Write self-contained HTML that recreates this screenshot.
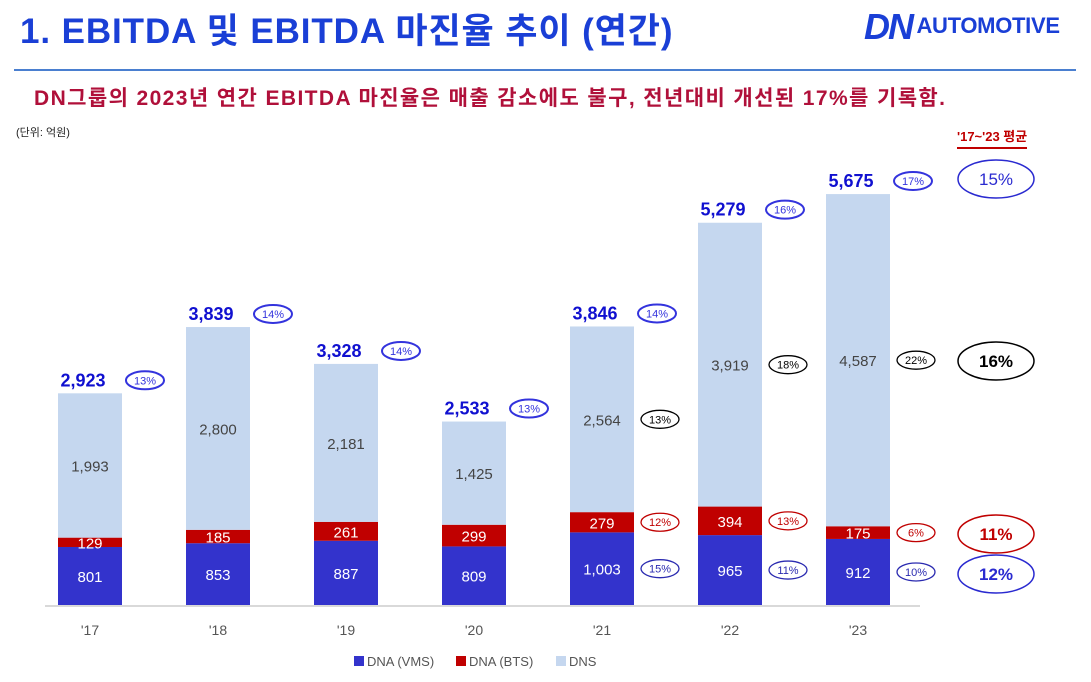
<!DOCTYPE html>
<html><head><meta charset="utf-8">
<style>
body{margin:0;width:1091px;height:682px;background:#fff;overflow:hidden;font-family:"Liberation Sans","Noto Sans CJK KR",sans-serif;}
.abs{position:absolute;}
</style></head>
<body>
<div class="abs" style="left:20px;top:3px;font-size:35px;font-weight:bold;color:#1a3fd6;letter-spacing:0.9px;">1. EBITDA 및 EBITDA 마진율 추이 (연간)</div>
<div class="abs" style="left:864px;top:6px;font-weight:bold;color:#1a3fd6;white-space:nowrap;">
<span style="font-size:36px;font-style:italic;letter-spacing:-2px;">DN</span> <span style="font-size:22px;vertical-align:6px;letter-spacing:-0.3px;">AUTOMOTIVE</span></div>
<div class="abs" style="left:14px;top:69px;width:1062px;height:2px;background:#4a7fd0;"></div>
<div class="abs" style="left:34px;top:82px;font-size:21px;font-weight:bold;color:#b0103a;letter-spacing:1.4px;white-space:nowrap;">DN그룹의 2023년 연간 EBITDA 마진율은 매출 감소에도 불구, 전년대비 개선된 17%를 기록함.</div>
<div class="abs" style="left:16px;top:124px;font-size:11px;color:#222;">(단위: 억원)</div>
<div class="abs" style="left:957px;top:126px;font-size:13px;font-weight:bold;color:#c00000;border-bottom:2px solid #c00000;padding-bottom:2px;">'17~'23 평균</div>
<svg class="abs" style="left:0;top:0" width="1091" height="682" id="chart"></svg>
<script>
const years=["'17","'18","'19","'20","'21","'22","'23"];
const vms=[801,853,887,809,1003,965,912];
const bts=[129,185,261,299,279,394,175];
const dns=[1993,2800,2181,1425,2564,3919,4587];
const totals=[2923,3839,3328,2533,3846,5279,5675];
const totalMargin=["13%","14%","14%","13%","14%","16%","17%"];
const dnsMargin=[null,null,null,null,"13%","18%","22%"];
const btsMargin=[null,null,null,null,"12%","13%","6%"];
const vmsMargin=[null,null,null,null,"15%","11%","10%"];
const avgLabels=["15%","16%","11%","12%"];
const avgColors=["#2a2ad0","#000","#c00000","#2a2ad0"];

const svg=document.getElementById('chart');
const NS='http://www.w3.org/2000/svg';
const base=605, k=411/5675;
const xc=i=>90+128*i;
const y=v=>base-v*k;
const bw=64;
function el(t,a,txt){const e=document.createElementNS(NS,t);for(const key in a)e.setAttribute(key,a[key]);if(txt!=null)e.textContent=txt;svg.appendChild(e);return e;}
const fmt=v=>v.toLocaleString('en-US');
const F='"Liberation Sans","Noto Sans CJK KR",sans-serif';

const axis=el('line',{x1:45,x2:920,y1:base+1,y2:base+1,stroke:'#d9d9d9','stroke-width':2});



function ell(cx,cy,rx,ry,col,txt,fs,bold,name){
  const e=el('ellipse',{cx:cx,cy:cy,rx:rx,ry:ry,fill:'#fff',stroke:col,'stroke-width':bold?2:1.3});
  
  
  const t=el('text',{x:cx,y:cy+fs*0.36,'text-anchor':'middle','font-size':fs,fill:col,'font-family':F,'font-weight':bold&&fs>14?'bold':'normal'},txt);
  
  
}

years.forEach((yr,i)=>{
  const x=xc(i)-bw/2;
  const segs=[[vms[i],'#3333cc','#fff','vms'],[bts[i],'#c00000','#fff','bts'],[dns[i],'#c5d7ef','#444','dns']];
  let acc=0;
  segs.forEach(([v,c,tc,n])=>{
    const r=el('rect',{x:x,y:y(acc+v),width:bw,height:v*k,fill:c});
    
    
    const cy=y(acc+v/2);
    const t=el('text',{x:xc(i),y:cy+6,'text-anchor':'middle','font-size':15,fill:tc,'font-family':F},fmt(v));
    
    
    if(n==='dns'&&dnsMargin[i]) ell(xc(i)+58,cy,19,9,'#000',dnsMargin[i],11,false,'margin-dns-'+i);
    if(n==='bts'&&btsMargin[i]) ell(xc(i)+58,cy,19,9,'#c00000',btsMargin[i],11,false,'margin-bts-'+i);
    if(n==='vms'&&vmsMargin[i]) ell(xc(i)+58,cy,19,9,'#2a2ab0',vmsMargin[i],11,false,'margin-vms-'+i);
    acc+=v;
  });
  const tt=el('text',{x:xc(i)-7,y:y(totals[i])-7,'text-anchor':'middle','font-size':18,'font-weight':'bold',fill:'#1010d0','font-family':F},fmt(totals[i]));
  
  
  ell(xc(i)+55,y(totals[i])-13,19,9,'#3333dd',totalMargin[i],11,true,'margin-total-'+i);
  const lb=el('text',{x:xc(i),y:635,'text-anchor':'middle','font-size':14,fill:'#555','font-family':F},yr);
  
  
});

const avgY=[179,361,534,574];
avgLabels.forEach((a,i)=>{
  const e=el('ellipse',{cx:996,cy:avgY[i],rx:38,ry:19,fill:'#fff',stroke:avgColors[i],'stroke-width':1.5});
  
  
  const t=el('text',{x:996,y:avgY[i]+6,'text-anchor':'middle','font-size':17,'font-weight':i===0?'normal':'bold',fill:avgColors[i],'font-family':F},a);
  
  
});

const legend=[['DNA (VMS)','#3333cc',354],['DNA (BTS)','#c00000',456],['DNS','#c5d7ef',556]];
legend.forEach(([n,c,x])=>{
  const r=el('rect',{x:x,y:656,width:10,height:10,fill:c});
  
  
  const t=el('text',{x:x+13,y:666,'font-size':13,fill:'#555','font-family':F},n);
  
  
});
</script>
</body></html>
